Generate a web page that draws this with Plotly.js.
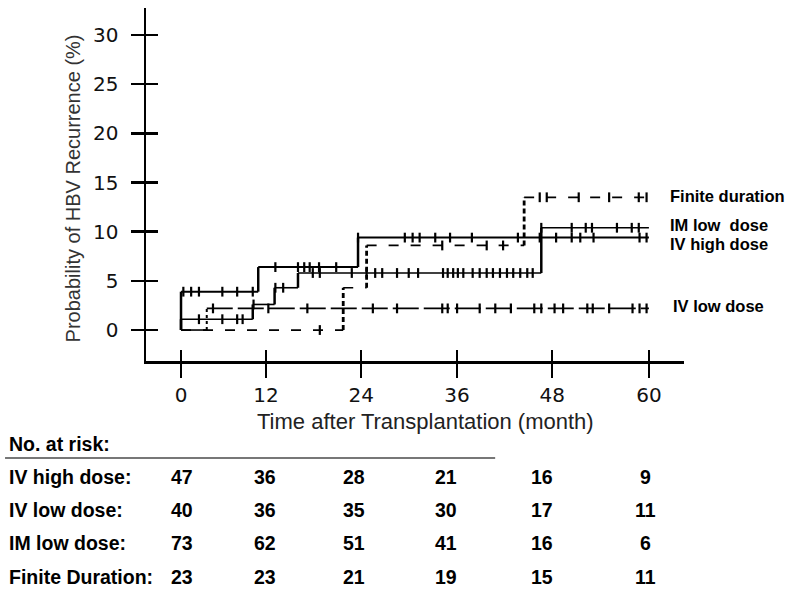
<!DOCTYPE html>
<html>
<head>
<meta charset="utf-8">
<script src="https://cdn.plot.ly/plotly-3.0.1.min.js"></script>
<style>
  html, body { margin: 0; padding: 0; background: #fff; }
  #chart { width: 800px; height: 593px; }
</style>
</head>
<body>
<div id="chart"></div>
<script>
// Kaplan-Meier Stufen (Monat, Wahrscheinlichkeit %)
const ivHighTimes = [0, 0, 9.9, 22.7, 60];
const ivHighProb = [0, 3.9, 6.4, 9.4, 9.4];
const ivHighCensor = [0.3, 1.3, 2.3, 5.3, 7.2, 9.2, 12.1, 15.0, 15.8, 16.5, 17.7, 19.9,
    22.7, 28.7, 29.7, 30.6, 32.6, 34.5, 37.3, 43.2, 46.0, 48.1, 50.1, 51.2, 52.9, 58.8, 59.7];

const ivLowTimes = [0, 3.3, 60];
const ivLowProb = [0, 2.2, 2.2];
const ivLowCensor = [4.1, 11.2, 16.2, 24.6, 27.7, 33.5, 34.2, 35.4, 38.3, 40.3, 42.3, 45.3,
    46.2, 47.9, 49.0, 52.1, 52.8, 54.9, 57.9, 58.8, 59.7];

const imLowTimes = [0, 0, 9.2, 12.0, 15.0, 46.2, 60];
const imLowProb = [0, 1.1, 2.6, 4.3, 5.8, 10.4, 10.4];
const imLowCensor = [2.3, 5.3, 7.2, 7.9, 9.3, 12.1, 13.1, 16.9, 17.8, 21.9, 23.8, 24.9, 25.8,
    27.7, 29.2, 30.4, 33.6, 34.2, 34.9, 35.5, 36.2, 37.4, 38.3, 39.2, 40.0, 40.9, 41.8, 42.6,
    43.5, 44.4, 45.1, 46.2, 50.1, 51.9, 52.7, 55.9, 57.8, 58.7];

const finiteTimes = [0, 20.8, 23.8, 44.0, 60];
const finiteProb = [0, 4.3, 8.6, 13.5, 13.5];
const finiteCensor = [17.8, 33.5, 39.2, 41.3, 46.0, 46.9, 51.0, 54.9, 58.7, 59.7];

// Achsen
const yTicks = [0, 5, 10, 15, 20, 25, 30];
const xTickText = ['0', '12', '24', '36', '48', '60'];
const xTickPos = [0, 10.9, 23.1, 35.4, 47.6, 60]; // Ticks im Original ungleichmäßig

// Patienten unter Risiko
const riskGroups = ['IV high dose:', 'IV low dose:', 'IM low dose:', 'Finite Duration:'];
const riskIvHigh = [47, 36, 28, 21, 16, 9];
const riskIvLow = [40, 36, 35, 30, 17, 11];
const riskImLow = [73, 62, 51, 41, 16, 6];
const riskFinite = [23, 23, 21, 19, 15, 11];

const seriesLabels = ['Finite duration', 'IM low\u00a0 dose', 'IV high dose', 'IV low dose'];

// Wert der Stufenfunktion zum Zeitpunkt t
function stepAt(times, probs, t) {
    let v = probs[0];
    for (let i = 0; i < times.length; i++) {
        if (times[i] <= t) v = probs[i];
    }
    return v;
}

// Stufenkurve getrennt in waagrechte und senkrechte Stücke (eigener Linienstil)
function curve(times, probs, hStyle, vStyle) {
    const hx = [], hy = [], vx = [], vy = [];
    for (let i = 0; i < times.length - 1; i++) {
        hx.push(times[i], times[i + 1], null);
        hy.push(probs[i], probs[i], null);
        if (probs[i + 1] !== probs[i]) {
            vx.push(times[i + 1], times[i + 1], null);
            vy.push(probs[i], probs[i + 1], null);
        }
    }
    return [
        { x: hx, y: hy, type: 'scatter', mode: 'lines', line: Object.assign({ color: '#000' }, hStyle),
          hoverinfo: 'skip', showlegend: false },
        { x: vx, y: vy, type: 'scatter', mode: 'lines', line: Object.assign({ color: '#000' }, vStyle),
          hoverinfo: 'skip', showlegend: false }
    ];
}

function censor(times, probs, cens) {
    return {
        x: cens, y: cens.map(t => stepAt(times, probs, t)),
        type: 'scatter', mode: 'markers',
        marker: { symbol: 'line-ns-open', size: 7, color: '#000', line: { color: '#000', width: 2.2 } },
        hoverinfo: 'skip', showlegend: false
    };
}

const traces = [].concat(
    curve(ivHighTimes, ivHighProb, { width: 2 }, { width: 2.5 }),
    curve(imLowTimes, imLowProb, { width: 1.6 }, { width: 2.5 }),
    curve(ivLowTimes, ivLowProb, { width: 1.6, dash: '26px,5px' }, { width: 2, dash: '3px,3px' }),
    curve(finiteTimes, finiteProb, { width: 1.7, dash: '10px,12px' }, { width: 2.8, dash: '5px,3px' }),
    [
        censor(ivHighTimes, ivHighProb, ivHighCensor),
        censor(imLowTimes, imLowProb, imLowCensor),
        censor(ivLowTimes, ivLowProb, ivLowCensor),
        censor(finiteTimes, finiteProb, finiteCensor)
    ]
);

const xRange = [-4.49, 64.5];
const yRange = [-3.15, 32.75];
const tickFont = { family: 'DejaVu Sans', size: 20, color: '#111' };
const boldFont = { family: 'Liberation Sans, Arial', size: 19.5, color: '#000' };

const annotations = [];
// Beschriftung rechts
const labelY = [13.6, 10.7, 8.8, 2.4];
const labelX = [62.4, 62.4, 62.4, 62.8];
seriesLabels.forEach((txt, i) => {
    annotations.push({
        text: '<b>' + txt + '</b>', x: labelX[i], y: labelY[i], xref: 'x', yref: 'y',
        xanchor: 'left', yanchor: 'middle', showarrow: false,
        font: { family: 'Liberation Sans, Arial', size: 16.5, color: '#000' }
    });
});

// Achsentitel
annotations.push({
    text: 'Probability of HBV Recurrence (%)', textangle: -90,
    x: -0.135, y: 0.49, xref: 'paper', yref: 'paper', xanchor: 'center', yanchor: 'middle',
    showarrow: false, font: { family: 'Liberation Sans, Arial', size: 20, color: '#333' }
});
annotations.push({
    text: 'Time after Transplantation (month)',
    x: 0.52, y: -0.172, xref: 'paper', yref: 'paper', xanchor: 'center', yanchor: 'middle',
    showarrow: false, font: { family: 'Liberation Sans, Arial', size: 22, color: '#222' }
});

// Risikotabelle
annotations.push({
    text: '<b>No. at risk:</b>', x: -0.258, y: -0.235, xref: 'paper', yref: 'paper',
    xanchor: 'left', yanchor: 'middle', showarrow: false, font: boldFont
});
const riskRows = [riskIvHigh, riskIvLow, riskImLow, riskFinite];
const rowY = [-0.329, -0.422, -0.516, -0.612];
const colX = [0.1, 10.8, 22.2, 34.0, 46.3, 59.6];
riskRows.forEach((row, r) => {
    annotations.push({
        text: '<b>' + riskGroups[r] + '</b>', x: -0.258, y: rowY[r], xref: 'paper', yref: 'paper',
        xanchor: 'left', yanchor: 'middle', showarrow: false, font: boldFont
    });
    row.forEach((n, c) => {
        annotations.push({
            text: '<b>' + n + '</b>', x: colX[c], y: rowY[r], xref: 'x', yref: 'paper',
            xanchor: 'center', yanchor: 'middle', showarrow: false, font: boldFont
        });
    });
});

const layout = {
    width: 800, height: 593,
    margin: { l: 146, r: 116, t: 8, b: 232 },
    paper_bgcolor: '#fff', plot_bgcolor: '#fff',
    showlegend: false,
    xaxis: {
        range: xRange, showgrid: false, zeroline: false,
        showline: true, linecolor: '#000', linewidth: 2.5,
        tickmode: 'array', tickvals: xTickPos, ticktext: xTickText,
        ticks: 'outside', ticklen: 14, tickwidth: 2.5, tickcolor: '#000',
        ticklabelstandoff: 0, tickfont: tickFont, fixedrange: true
    },
    yaxis: {
        range: yRange, showgrid: false, zeroline: false,
        showline: true, linecolor: '#000', linewidth: 2.5,
        tickmode: 'array', tickvals: yTicks,
        ticks: 'outside', ticklen: 13, tickwidth: 2.5, tickcolor: '#000',
        ticklabelstandoff: 8, tickfont: tickFont, fixedrange: true
    },
    // zweite Achsen nur für die nach innen ragenden Tick-Hälften
    xaxis2: {
        range: xRange, overlaying: 'x', anchor: 'y', side: 'bottom',
        showgrid: false, zeroline: false, showline: false, showticklabels: false,
        tickmode: 'array', tickvals: xTickPos,
        ticks: 'inside', ticklen: 11, tickwidth: 2.5, tickcolor: '#000', fixedrange: true
    },
    yaxis2: {
        range: yRange, overlaying: 'y', anchor: 'x', side: 'left',
        showgrid: false, zeroline: false, showline: false, showticklabels: false,
        tickmode: 'array', tickvals: yTicks,
        ticks: 'inside', ticklen: 12, tickwidth: 2.5, tickcolor: '#000', fixedrange: true
    },
    shapes: [{
        type: 'line', xref: 'paper', yref: 'paper',
        x0: -0.262, x1: 0.649, y0: -0.275, y1: -0.275,
        line: { color: '#777', width: 2 }
    }],
    annotations: annotations
};

// unsichtbare Spur, damit die Zweitachsen gezeichnet werden
traces.push({ x: [0], y: [0], xaxis: 'x2', yaxis: 'y2', type: 'scatter', mode: 'markers',
    marker: { opacity: 0 }, hoverinfo: 'skip', showlegend: false });

Plotly.newPlot('chart', traces, layout, { displayModeBar: false, staticPlot: true });
</script>
</body>
</html>
